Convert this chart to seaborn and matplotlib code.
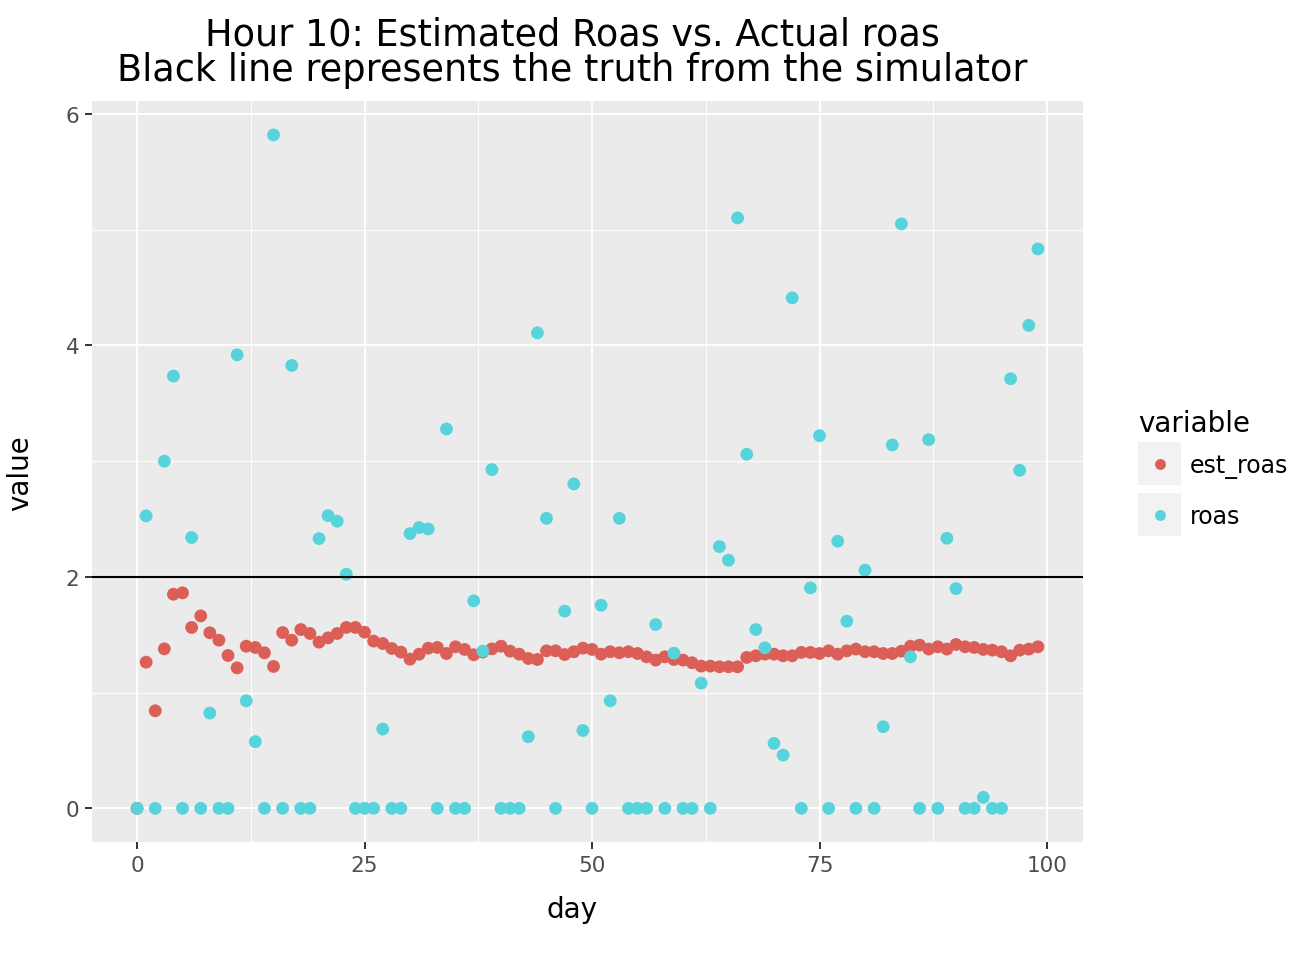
import numpy as np
import pandas as pd
import matplotlib
matplotlib.use("Agg")
import matplotlib.pyplot as plt
from matplotlib.patches import Rectangle
from matplotlib.ticker import MultipleLocator
import seaborn as sns

# data
days = list(range(100))

est_roas = [
    0.0, 1.263, 0.843, 1.378, 1.850, 1.862, 1.563, 1.663, 1.517, 1.453,
    1.321, 1.214, 1.401, 1.390, 1.344, 1.226, 1.519, 1.453, 1.545, 1.511,
    1.436, 1.473, 1.511, 1.563, 1.563, 1.522, 1.445, 1.424, 1.381, 1.350,
    1.289, 1.332, 1.384, 1.390, 1.338, 1.396, 1.373, 1.327, 1.350, 1.378,
    1.401, 1.358, 1.332, 1.295, 1.286, 1.361, 1.361, 1.329, 1.353, 1.384,
    1.373, 1.332, 1.353, 1.344, 1.353, 1.338, 1.309, 1.281, 1.309, 1.286,
    1.281, 1.258, 1.229, 1.229, 1.223, 1.223, 1.223, 1.304, 1.318, 1.332,
    1.332, 1.318, 1.318, 1.347, 1.347, 1.338, 1.361, 1.332, 1.361, 1.376,
    1.353, 1.353, 1.338, 1.338, 1.358, 1.401, 1.410, 1.376, 1.396, 1.376,
    1.416, 1.396, 1.390, 1.373, 1.367, 1.353, 1.318, 1.367, 1.376, 1.396,
]

roas = [
    0.0, 2.527, 0.0, 3.000, 3.735, 0.0, 2.340, 0.0, 0.823, 0.0,
    0.0, 3.919, 0.929, 0.576, 0.0, 5.819, 0.0, 3.827, 0.0, 0.0,
    2.331, 2.529, 2.481, 2.023, 0.0, 0.0, 0.0, 0.685, 0.0, 0.0,
    2.374, 2.426, 2.414, 0.0, 3.278, 0.0, 0.0, 1.793, 1.358, 2.927,
    0.0, 0.0, 0.0, 0.619, 4.109, 2.506, 0.0, 1.704, 2.803, 0.673,
    0.0, 1.755, 0.929, 2.506, 0.0, 0.0, 0.0, 1.588, 0.0, 1.341,
    0.0, 0.0, 1.082, 0.0, 2.262, 2.144, 5.102, 3.060, 1.545, 1.387,
    0.561, 0.460, 4.411, 0.0, 1.905, 3.220, 0.0, 2.308, 1.617, 0.0,
    2.058, 0.0, 0.705, 3.140, 5.050, 1.309, 0.0, 3.186, 0.0, 2.334,
    1.899, 0.0, 0.0, 0.095, 0.0, 0.0, 3.712, 2.921, 4.173, 4.834,
]

truth_roas = 2.0
x_ticks = [0, 25, 50, 75, 100]
y_ticks = [0, 2, 4, 6]
palette = ["#db5f57", "#57d3db"]

df = pd.DataFrame({"day": days, "est_roas": est_roas, "roas": roas})
long_df = df.melt(id_vars="day", var_name="variable", value_name="value")

sns.set_theme(style="darkgrid", rc={
    "axes.facecolor": "#EBEBEB",
    "grid.color": "white",
    "font.family": "DejaVu Sans",
    "text.color": "black",
})

fig = plt.figure(figsize=(13.16, 9.62), dpi=100)
ax = fig.add_axes([0.0699, 0.1237, 0.753, 0.770])

sns.scatterplot(data=long_df, x="day", y="value", hue="variable",
                palette=palette, s=85, linewidth=0, ax=ax, zorder=3)
ax.axhline(truth_roas, color="black", lw=1.5, zorder=4)

# ggplot style 5% expansion
x_pad = (max(days) - min(days)) * 0.05
y_lo, y_hi = min(min(roas), min(est_roas)), max(max(roas), max(est_roas))
y_pad = (y_hi - y_lo) * 0.05
ax.set_xlim(min(days) - x_pad, max(days) + x_pad)
ax.set_ylim(y_lo - y_pad, y_hi + y_pad)
ax.set_xticks(x_ticks)
ax.set_yticks(y_ticks)
ax.xaxis.set_minor_locator(MultipleLocator(12.5))
ax.yaxis.set_minor_locator(MultipleLocator(1))
ax.grid(which="major", color="white", lw=1.4)
ax.grid(which="minor", color="white", lw=0.7)
ax.set_axisbelow(True)
for sp in ax.spines.values():
    sp.set_visible(False)

ax.tick_params(which="major", bottom=True, left=True, length=5, width=1.4,
               color="#333333", labelcolor="#4D4D4D", labelsize=15.5, pad=4)
ax.tick_params(which="minor", length=0)

ax.set_xlabel("day", fontsize=20, color="black")
ax.set_ylabel("value", fontsize=20, color="black")
ax.xaxis.set_label_coords(0.484, -0.072)
ax.yaxis.set_label_coords(-0.058, 0.5)

fig.text(0.4347, 1 - 16 / 962,
         "Hour 10: Estimated Roas vs. Actual roas\nBlack line represents the truth from the simulator",
         ha="center", va="top", fontsize=26.4, linespacing=0.98, color="black")

sns.move_legend(ax, "upper left", bbox_to_anchor=(1126 / 1316, 1 - 398 / 962),
                bbox_transform=fig.transFigure, frameon=False, borderpad=0,
                title="variable", title_fontsize=20, fontsize=17,
                handlelength=1.86, handletextpad=0.35, labelspacing=1.1,
                markerscale=0.85)
leg = ax.get_legend()
leg._legend_box.align = "left"
leg._legend_box.sep = 12

# grey key boxes behind the legend markers
fig.canvas.draw()
renderer = fig.canvas.get_renderer()
W, H = fig.canvas.get_width_height()
for h in leg.legend_handles:
    bb = h.get_window_extent(renderer)
    cx, cy = (bb.x0 + bb.x1) / 2, (bb.y0 + bb.y1) / 2
    size = 43
    fig.add_artist(Rectangle(((cx - size / 2) / W, (cy - size / 2) / H), size / W, size / H,
                             transform=fig.transFigure, facecolor="#F2F2F2",
                             edgecolor="none", zorder=-1))

fig.savefig("out.png", dpi=100)
